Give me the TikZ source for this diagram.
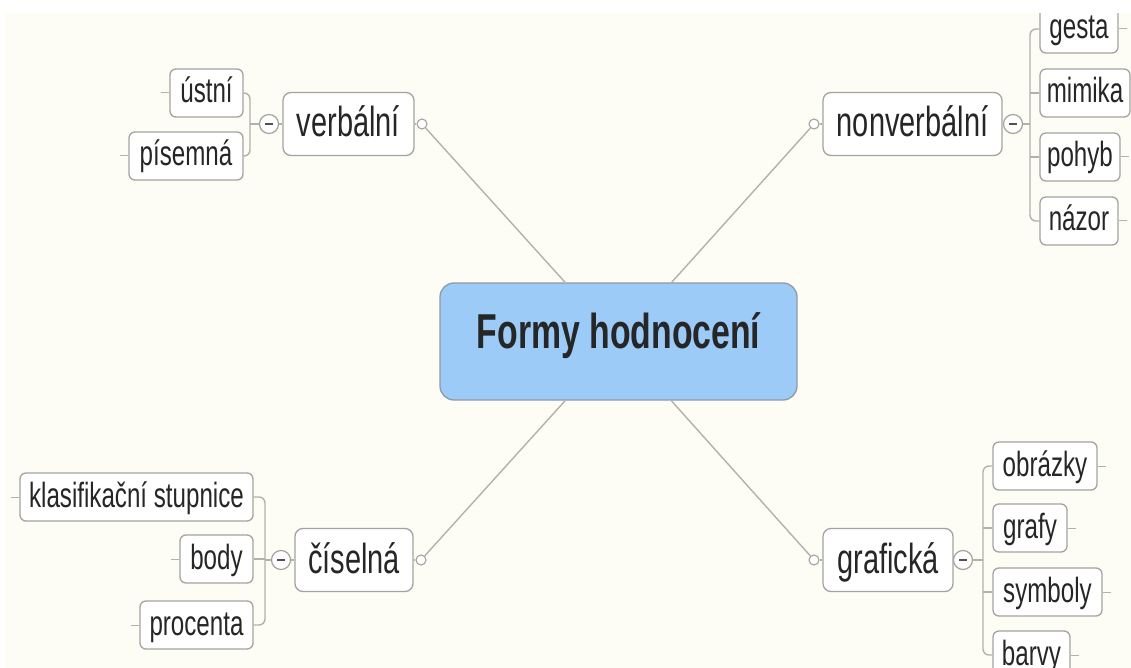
\documentclass[tikz,border=0pt]{standalone}
\usepackage{fontspec}
\setmainfont{Liberation Sans}[FakeStretch=0.69]
\usetikzlibrary{calc}
\definecolor{bg}{HTML}{FDFDF5}
\definecolor{ln}{HTML}{B2B2AA}
\definecolor{bd}{HTML}{A3A3A0}
\definecolor{tx}{HTML}{262626}
\definecolor{cfill}{HTML}{9CCBF8}
\definecolor{cbd}{HTML}{8E9AA4}
\begin{document}
\begin{tikzpicture}[x=1pt,y=-1pt,
  conn/.style={draw=ln,line width=1.4pt},
  base/.style={draw=bd,line width=1.3pt,fill=white,inner sep=0pt,text=tx,align=center},
  leaf/.style={base,rounded corners=6pt,minimum height=48pt,font=\fontsize{35}{35}\selectfont,text height=26pt,text depth=6pt},
  branch/.style={base,rounded corners=8pt,minimum height=63pt,font=\fontsize{42}{42}\selectfont,text height=33.6pt,text depth=7.6pt},
  root/.style={base,draw=cbd,fill=cfill,rounded corners=14pt,font=\bfseries\fontsize{49}{49}\selectfont,text=tx,text height=35pt,text depth=22pt},
  knob/.style={circle,draw=bd,fill=white,line width=1.1pt,minimum size=10pt,inner sep=0pt},
  fold/.style={circle,draw=bd,fill=white,line width=1.2pt,minimum size=19pt,inner sep=0pt,
    path picture={\draw[tx!80,line width=1.3pt] ([xshift=-4pt]path picture bounding box.center) -- ([xshift=4pt]path picture bounding box.center);}},
]
\useasboundingbox (0,0) rectangle (1131,668);
\fill[bg] (0,0) rectangle (1131,668);

% root
\node[root,minimum width=357pt,minimum height=117pt] (root) at (618.5,341.5) {Formy hodnocení};

% branches
\node[branch,minimum width=131pt] (verb) at (348.5,124) {verbální};
\node[branch,minimum width=179pt] (nonv) at (912.5,124) {nonverbální};
\node[branch,minimum width=118pt] (cis) at (354,560) {číselná};
\node[branch,minimum width=130pt] (graf) at (888,560) {grafická};

% knobs
\node[knob] (vk) at (422,124) {};
\node[knob] (nk) at (814,124) {};
\node[knob] (ck) at (421,560) {};
\node[knob] (gk) at (814,560) {};

% folds
\node[fold] (vf) at (269,124) {};
\node[fold] (nf) at (1013,124) {};
\node[fold] (cf) at (281,560) {};
\node[fold] (gf) at (963,560) {};

% bracket spines
\coordinate (vbr) at (250,124);
\coordinate (nbr) at (1030,124);
\coordinate (cbr) at (265,560);
\coordinate (gbr) at (983,560);

% leaves
\node[leaf,minimum width=73pt] (ustni) at (206.5,93) {ústní};
\node[leaf,minimum width=114pt] (pis) at (186,156) {písemná};

\node[leaf,minimum width=78pt] (gesta) at (1079,29) {gesta};
\node[leaf,minimum width=90pt] (mim) at (1085,93) {mimika};
\node[leaf,minimum width=80pt] (poh) at (1080,157) {pohyb};
\node[leaf,minimum width=78pt] (naz) at (1079,221) {názor};

\node[leaf,minimum width=233pt] (klas) at (136.5,497) {klasifikační stupnice};
\node[leaf,minimum width=73pt] (body) at (216.5,559) {body};
\node[leaf,minimum width=113pt] (proc) at (196.5,625) {procenta};

\node[leaf,minimum width=104pt] (obr) at (1045,466) {obrázky};
\node[leaf,minimum width=74pt] (grafy) at (1030,528) {grafy};
\node[leaf,minimum width=109pt] (sym) at (1047.5,592) {symboly};
\node[leaf,minimum width=77pt] (barvy) at (1031.5,655) {barvy};

% root connectors
\draw[conn] (root) -- (vk);
\draw[conn] (root) -- (nk);
\draw[conn] (root) -- (ck);
\draw[conn] (root) -- (gk);

% branch to knob and fold
\draw[conn] (verb) -- (vk);
\draw[conn] (nonv) -- (nk);
\draw[conn] (cis) -- (ck);
\draw[conn] (graf) -- (gk);
\draw[conn] (verb) -- (vf);
\draw[conn] (nonv) -- (nf);
\draw[conn] (cis) -- (cf);
\draw[conn] (graf) -- (gf);
\draw[conn] (vf) -- (vbr);
\draw[conn] (nf) -- (nbr);
\draw[conn] (cf) -- (cbr);
\draw[conn] (gf) -- (gbr);

% brackets
\draw[conn,rounded corners=6pt] (ustni.east) -- (ustni.east -| vbr) -- (pis.east -| vbr) -- (pis.east);
\draw[conn,rounded corners=6pt] (gesta.west) -- (gesta.west -| nbr) -- (naz.west -| nbr) -- (naz.west);
\draw[conn] (mim.west -| nbr) -- (mim.west);
\draw[conn] (poh.west -| nbr) -- (poh.west);
\draw[conn,rounded corners=6pt] (klas.east) -- (klas.east -| cbr) -- (proc.east -| cbr) -- (proc.east);
\draw[conn] (body.east -| cbr) -- (body.east);
\draw[conn,rounded corners=6pt] (obr.west) -- (obr.west -| gbr) -- (barvy.west -| gbr) -- (barvy.west);
\draw[conn] (grafy.west -| gbr) -- (grafy.west);
\draw[conn] (sym.west -| gbr) -- (sym.west);

% stubs
\foreach \n in {ustni,pis,klas,body,proc} \draw[conn,line width=1pt] (\n.west) -- ++(-8,0);
\foreach \n in {gesta,mim,poh,naz,obr,grafy,sym,barvy} \draw[conn,line width=1pt] (\n.east) -- ++(8,0);

% top white band
\fill[white] (0,0) rectangle (1131,13);
\fill[white] (0,0) rectangle (5,668);
\end{tikzpicture}
\end{document}
